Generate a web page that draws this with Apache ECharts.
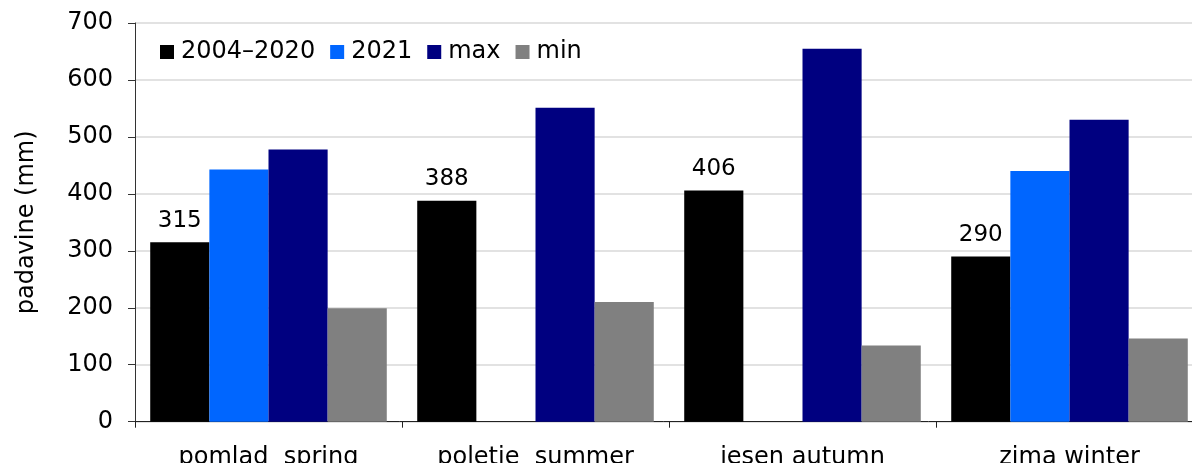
<!DOCTYPE html>
<html>
<head>
<meta charset="utf-8">
<script src="https://cdn.jsdelivr.net/npm/echarts@6/dist/echarts.min.js"></script>
<style>
html,body{margin:0;padding:0;background:#fff;}
#chart{width:1192px;height:463px;}
</style>
</head>
<body>
<div id="chart"></div>
<script>
const categories = ['pomlad  spring', 'poletje  summer', 'jesen autumn', 'zima winter'];
const seriesNames = ['2004–2020', '2021', 'max', 'min'];
const avg = [315, 388, 406, 290];
const y2021 = [443, null, null, 440];
const maxVals = [478, 551, 655, 530];
const minVals = [199, 210, 134, 146];
const yTicks = [0, 100, 200, 300, 400, 500, 600, 700];
const colors = ['#000000', '#0066ff', '#000080', '#808080'];

const FONT = 'DejaVu Sans';
const FS = 24;
const chart = echarts.init(document.getElementById('chart'), null, {renderer: 'canvas'});

const dataSets = [avg, y2021, maxVals, minVals];
const series = dataSets.map((d, i) => ({
  name: seriesNames[i],
  type: 'bar',
  data: d,
  barGap: '0%',
  barCategoryGap: '11.4%',
  itemStyle: {color: colors[i]},
  label: i === 0 ? {
    show: true, position: 'top', distance: 10,
    fontFamily: FONT, fontSize: 23, color: '#000'
  } : {show: false},
  emphasis: {disabled: true}
}));

chart.setOption({
  animation: false,
  textStyle: {fontFamily: FONT},
  legend: {
    left: 160, top: 40, padding: 0,
    itemWidth: 14, itemHeight: 14, itemGap: 15,
    icon: 'rect',
    textStyle: {fontFamily: FONT, fontSize: FS, color: '#000', padding: [0, 0, 0, 2]},
    data: seriesNames
  },
  grid: {left: 135, width: 1068, top: 23, height: 398.7, containLabel: false, outerBoundsMode: 'none'},
  xAxis: {
    type: 'category',
    data: categories,
    axisLine: {lineStyle: {color: '#222', width: 1}},
    axisTick: {show: true, length: 6, lineStyle: {color: '#222'}},
    axisLabel: {fontFamily: FONT, fontSize: FS, color: '#000', margin: 24, interval: 0}
  },
  yAxis: {
    type: 'value',
    min: yTicks[0], max: yTicks[yTicks.length - 1], interval: 100,
    name: 'padavine (mm)',
    nameLocation: 'middle',
    nameGap: 96,
    nameTextStyle: {fontFamily: FONT, fontSize: FS, color: '#000'},
    axisLine: {show: true, lineStyle: {color: '#333', width: 1}},
    axisTick: {show: true, length: 7, lineStyle: {color: '#333'}},
    axisLabel: {fontFamily: FONT, fontSize: FS, color: '#000', margin: 22},
    splitLine: {show: true, lineStyle: {color: '#d9d9d9', width: 1.5}}
  },
  series: series
});
</script>
</body>
</html>
